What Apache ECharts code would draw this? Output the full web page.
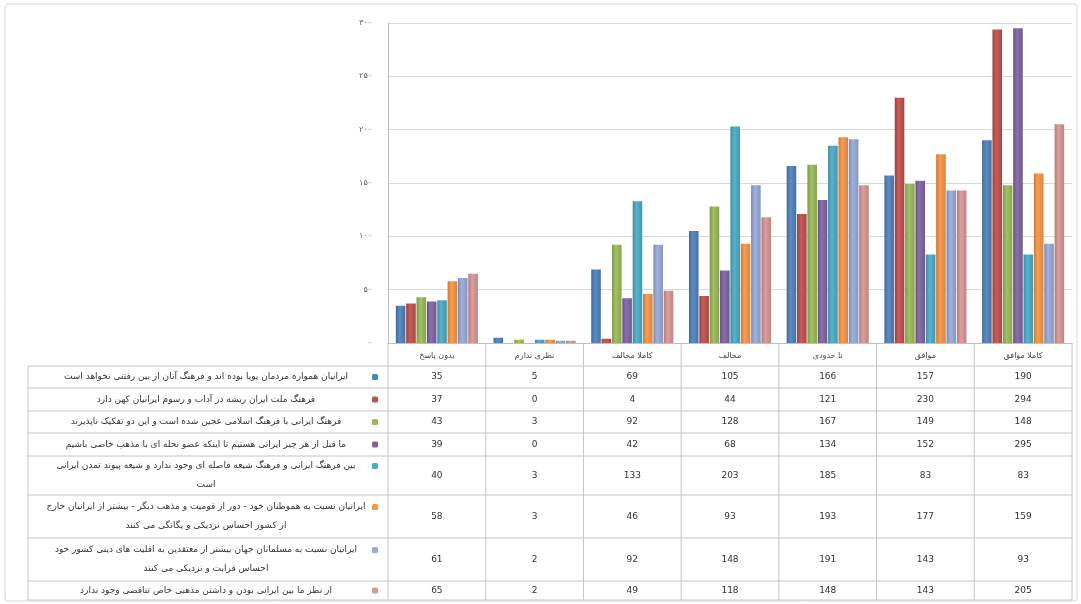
<!DOCTYPE html>
<html>
<head>
<meta charset="utf-8">
<script src="https://cdn.jsdelivr.net/npm/echarts@6/dist/echarts.min.js"></script>
<style>
html,body{margin:0;padding:0;background:#fff;}
#chart{width:1081px;height:604px;}
</style>
</head>
<body>
<div id="chart"></div>
<script>
// ---- data ----
const categories = ['بدون پاسخ', 'نظری ندارم', 'کاملا مخالف', 'مخالف', 'تا حدودی', 'موافق', 'کاملا موافق'];
const yTickLabels = ['۰', '۵۰', '۱۰۰', '۱۵۰', '۲۰۰', '۲۵۰', '۳۰۰'];
const seriesNames = [
  'ایرانیان همواره مردمان پویا بوده اند و فرهنگ آنان از بین رفتنی نخواهد است',
  'فرهنگ ملت ایران ریشه در آداب و رسوم ایرانیان کهن دارد',
  'فرهنگ ایرانی با فرهنگ اسلامی عجین شده است و این دو تفکیک ناپذیرند',
  'ما قبل از هر چیز ایرانی هستیم تا اینکه عضو نحله ای با مذهب خاصی باشیم',
  'بین فرهنگ ایرانی و فرهنگ شیعه فاصله ای وجود ندارد و شیعه پیوند تمدن ایرانی\nاست',
  'ایرانیان نسبت به هموطنان خود - دور از قومیت و مذهب دیگر - بیشتر از ایرانیان خارج\nاز کشور احساس نزدیکی و یگانگی می کنند',
  'ایرانیان نسبت به مسلمانان جهان بیشتر از معتقدین به اقلیت های دینی کشور خود\nاحساس قرابت و نزدیکی می کنند',
  'از نظر ما بین ایرانی بودن و داشتن مذهبی خاص تناقضی وجود ندارد'
];
const values1 = [35, 5, 69, 105, 166, 157, 190];
const values2 = [37, 0, 4, 44, 121, 230, 294];
const values3 = [43, 3, 92, 128, 167, 149, 148];
const values4 = [39, 0, 42, 68, 134, 152, 295];
const values5 = [40, 3, 133, 203, 185, 83, 83];
const values6 = [58, 3, 46, 93, 193, 177, 159];
const values7 = [61, 2, 92, 148, 191, 143, 93];
const values8 = [65, 2, 49, 118, 148, 143, 205];
const allValues = [values1, values2, values3, values4, values5, values6, values7, values8];

// ---- styles ----
const colors = ['#4F81BD', '#C0504D', '#9BBB59', '#8064A2', '#4BACC6', '#F79646', '#98AADA', '#D99795'];
const FONT = 'DejaVu Sans';

function shade(hex, f) {
  const n = parseInt(hex.slice(1), 16);
  let r = (n >> 16) & 255, g = (n >> 8) & 255, b = n & 255;
  if (f < 0) { r = Math.round(r * (1 + f)); g = Math.round(g * (1 + f)); b = Math.round(b * (1 + f)); }
  else { r = Math.round(r + (255 - r) * f); g = Math.round(g + (255 - g) * f); b = Math.round(b + (255 - b) * f); }
  return 'rgb(' + r + ',' + g + ',' + b + ')';
}
function grad(c) {
  return new echarts.graphic.LinearGradient(0, 0, 1, 0, [
    { offset: 0, color: shade(c, -0.18) },
    { offset: 0.4, color: shade(c, 0.08) },
    { offset: 1, color: shade(c, -0.12) }
  ]);
}

const chart = echarts.init(document.getElementById('chart'), null, { renderer: 'canvas' });

const option = {
  backgroundColor: '#ffffff',
  animation: false,
  grid: { left: 388, right: 9, top: 23, bottom: 261, containLabel: false },
  xAxis: {
    type: 'category',
    data: categories,
    axisLine: { show: true, lineStyle: { color: '#bfbfbf', width: 1 } },
    axisTick: { show: false },
    axisLabel: { fontFamily: FONT, fontSize: 8, color: '#444', margin: 9, interval: 0 },
    splitLine: { show: false }
  },
  yAxis: {
    type: 'value',
    min: 0, max: 300, interval: 50,
    axisLine: { show: true, lineStyle: { color: '#bfbfbf', width: 1 } },
    axisTick: { show: false },
    axisLabel: {
      fontFamily: FONT, fontSize: 8, color: '#666', margin: 16,
      formatter: function (v) { return yTickLabels[Math.round(v / 50)]; }
    },
    splitLine: { show: true, lineStyle: { color: '#d9d9d9', width: 1 } }
  },
  series: allValues.map(function (vals, j) {
    return {
      type: 'bar',
      name: seriesNames[j],
      data: vals,
      barCategoryGap: '16%',
      barGap: '8%',
      itemStyle: { color: grad(colors[j]) }
    };
  })
};
chart.setOption(option);

// ---- data table under the plot, aligned with the category axis ----
const xs = categories.map(function (c, i) { return chart.convertToPixel({ xAxisIndex: 0 }, i); });
const band = xs[1] - xs[0];
const colEdges = xs.map(function (x) { return x - band / 2; });
colEdges.push(xs[xs.length - 1] + band / 2);
const tableLeft = 28;
const headerTop = 343;
const rowEdges = [366, 388, 411, 433, 456, 495, 538, 581, 600];
const lineColor = '#c4c4c4';
const g = [];

// frame around the whole chart
g.push({ type: 'rect', shape: { x: 5, y: 4, width: 1072, height: 597, r: 3 }, style: { fill: 'none', stroke: '#d9d9d9', lineWidth: 1 }, silent: true });

// vertical lines
colEdges.forEach(function (x) {
  g.push({ type: 'line', shape: { x1: x, y1: headerTop, x2: x, y2: rowEdges[rowEdges.length - 1] }, style: { stroke: lineColor, lineWidth: 1 }, silent: true });
});
g.push({ type: 'line', shape: { x1: tableLeft, y1: rowEdges[0], x2: tableLeft, y2: rowEdges[rowEdges.length - 1] }, style: { stroke: lineColor, lineWidth: 1 }, silent: true });
// horizontal lines
rowEdges.forEach(function (y) {
  g.push({ type: 'line', shape: { x1: tableLeft, y1: y, x2: colEdges[colEdges.length - 1], y2: y }, style: { stroke: lineColor, lineWidth: 1 }, silent: true });
});

allValues.forEach(function (vals, j) {
  const top = rowEdges[j], bot = rowEdges[j + 1];
  const cy = (top + bot) / 2;
  vals.forEach(function (v, i) {
    g.push({ type: 'text', x: xs[i], y: cy, silent: true,
      style: { text: String(v), fontFamily: FONT, fontSize: 9, fill: '#333', align: 'center', verticalAlign: 'middle' } });
  });
  const lines = seriesNames[j].split('\n');
  const lh = 19;
  const firstY = lines.length > 1 ? cy - lh / 2 : cy;
  lines.forEach(function (ln, k) {
    g.push({ type: 'text', x: 206, y: firstY + k * lh, silent: true,
      style: { text: ln, fontFamily: FONT, fontSize: 9, fill: '#333', align: 'center', verticalAlign: 'middle' } });
  });
  g.push({ type: 'rect', shape: { x: 372, y: firstY - 3, width: 6, height: 6, r: 1.5 }, style: { fill: colors[j] }, silent: true });
});

chart.setOption({ graphic: { elements: g } });
</script>
</body>
</html>
